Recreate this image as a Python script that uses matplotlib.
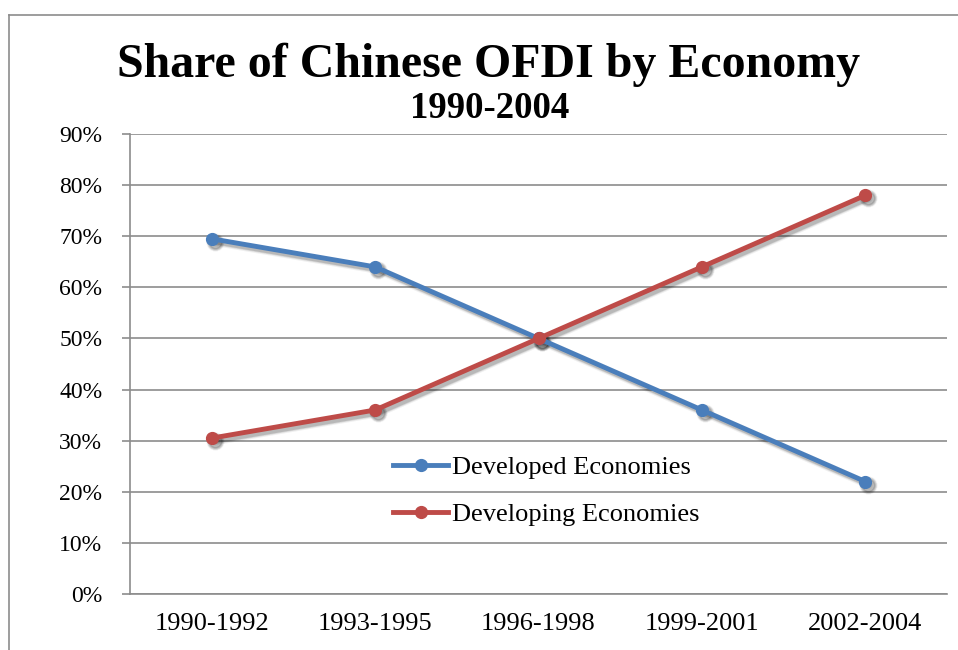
import matplotlib.pyplot as plt
from matplotlib.lines import Line2D
from matplotlib.ticker import PercentFormatter
from matplotlib.transforms import offset_copy

# Data
periods = ["1990-1992", "1993-1995", "1996-1998", "1999-2001", "2002-2004"]
developed = [69.5, 64.0, 50.0, 36.0, 22.0]
developing = [30.5, 36.0, 50.0, 64.0, 78.0]

plt.rcParams['font.family'] = ['Liberation Serif', 'DejaVu Serif']

fig = plt.figure(figsize=(9.58, 6.5), dpi=100)
ax = fig.add_axes([130 / 958, 56 / 650, 817 / 958, 460 / 650])

x = range(len(periods))

# soft drop shadow, Excel style
shadow_tr = offset_copy(ax.transData, fig=fig, x=2.2, y=-2.2, units='points')
for vals in [developed, developing]:
    for lw, ms, a in [(6, 12, 0.06), (4.5, 10.5, 0.1), (3.4, 9, 0.14)]:
        ax.plot(x, vals, color='black', lw=lw, marker='o', ms=ms, alpha=a,
                transform=shadow_tr, zorder=2, solid_capstyle='round')

ax.plot(x, developed, color='#4A7EBB', lw=3.5, marker='o', ms=8.5,
        label='Developed Economies', zorder=3)
ax.plot(x, developing, color='#BE4B48', lw=3.5, marker='o', ms=8.5,
        label='Developing Economies', zorder=3)

# Axes styling
ax.set_xlim(-0.5, len(periods) - 0.5)
ax.set_ylim(0, 90)
ax.set_yticks(range(0, 91, 10))
ax.yaxis.set_major_formatter(PercentFormatter(decimals=0))
ax.set_xticks(list(x))
ax.set_xticklabels(periods)
ax.grid(axis='y', color='#8C8C8C', lw=1.2)
ax.set_axisbelow(True)
for side in ['top', 'right']:
    ax.spines[side].set_visible(False)
for side in ['left', 'bottom']:
    ax.spines[side].set_color('#8C8C8C')
    ax.spines[side].set_linewidth(1.2)
ax.tick_params(axis='y', labelsize=17, length=6, width=1.2, color='#8C8C8C', pad=14)
ax.tick_params(axis='x', labelsize=19, length=0, pad=14)

ax.legend(loc='center left', bbox_to_anchor=(263 / 817, 103 / 460), frameon=False,
          fontsize=19, borderpad=0, borderaxespad=0, handlelength=2.1,
          handletextpad=0.15, labelspacing=0.9)

# Titles
fig.text(489 / 958, 1 - 77 / 650, 'Share of Chinese OFDI by Economy', ha='center',
         va='baseline', fontsize=34.5, fontweight='bold')
fig.text(490 / 958, 1 - 118 / 650, '1990-2004', ha='center', va='baseline',
         fontsize=26.5, fontweight='bold')

# Outer chart frame (cut off on the right and bottom)
fig.add_artist(Line2D([9 / 958, 9 / 958], [0, 1 - 15 / 650], color='#8C8C8C', lw=1.2))
fig.add_artist(Line2D([9 / 958, 1], [1 - 15 / 650, 1 - 15 / 650], color='#8C8C8C', lw=1.2))

fig.savefig('out.png', dpi=100)
